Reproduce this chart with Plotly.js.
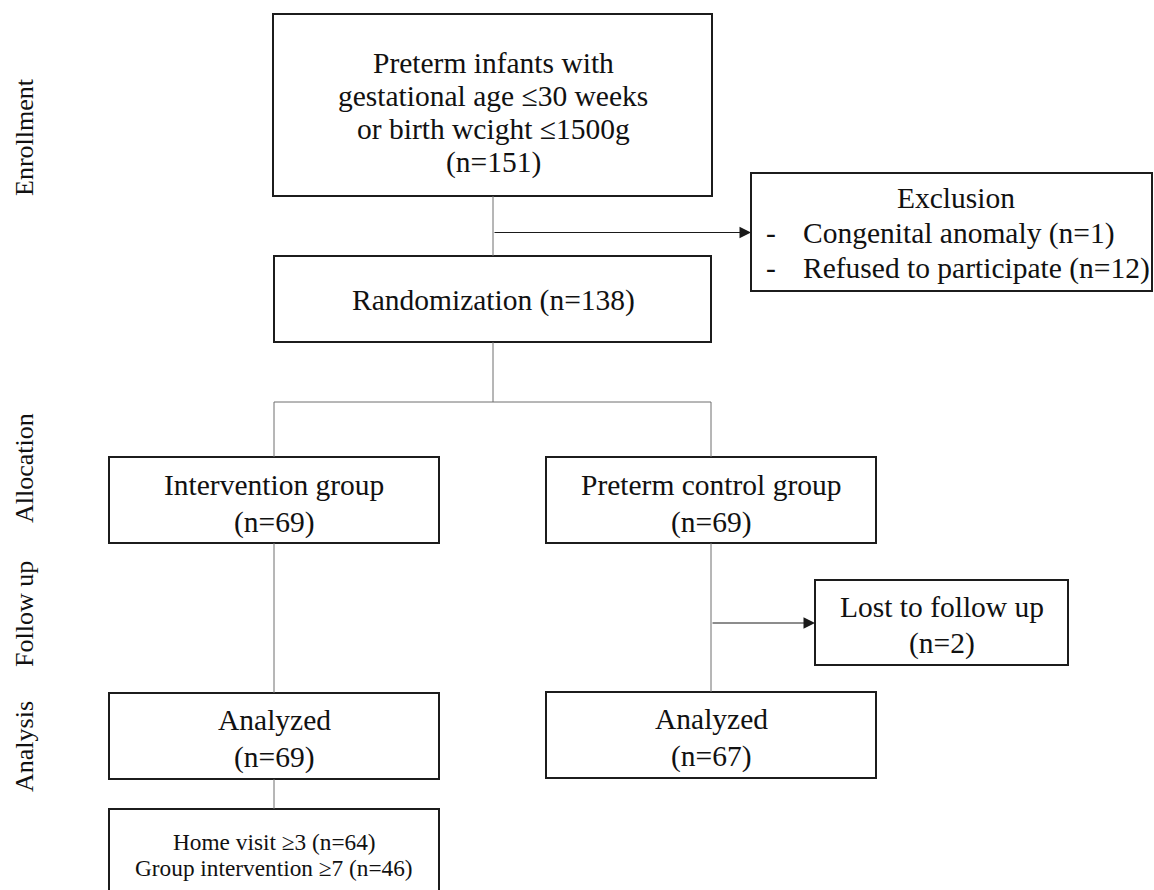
<!DOCTYPE html>
<html><head><meta charset="utf-8">
<script src="https://cdn.plot.ly/plotly-3.0.1.min.js"></script>
<style>html,body{margin:0;padding:0;background:#fff}</style>
</head><body><div id="chart" style="width:1154px;height:890px"></div>
<script>
// ---------- data ----------
const stageLabels = ["Enrollment", "Allocation", "Follow up", "Analysis"];
const eligibilityLines = ["Preterm infants with", "gestational age \u226430 weeks", "or birth wcight \u22641500g"];
const enrolledN = 151;
const randomizedN = 138;
const exclusionTitle = "Exclusion";
const exclusionReasons = ["Congenital anomaly", "Refused to participate"];
const exclusionN = [1, 12];
const groupNames = ["Intervention group", "Preterm control group"];
const allocatedN = [69, 69];
const lostLabel = "Lost to follow up";
const lostN = [null, 2];
const analyzedLabel = "Analyzed";
const analyzedN = [69, 67];
const adherenceLabels = ["Home visit \u22653", "Group intervention \u22657"];
const adherenceN = [64, 46];

// ---------- layout geometry (pixels in a 1154 x 890 frame) ----------
const W = 1154, H = 890;
const colX = [274, 711];          // centre x of the two arms
const mainX = 493;                // centre x of top column
const FONT = "Liberation Serif, Times New Roman, serif";
const FS = 29.5;
const BOX_LINE = {color: "#1c1c1c", width: 2};
const CONN = {color: "#6e6e6e", width: 1};

const boxes = [
  {x0: 273, x1: 712, y0: 14, y1: 196},   // enrollment
  {x0: 751, x1: 1152, y0: 173, y1: 291}, // exclusion
  {x0: 274, x1: 711, y0: 256, y1: 342},  // randomization
  {x0: 109, x1: 439, y0: 457, y1: 543},  // intervention
  {x0: 546, x1: 876, y0: 457, y1: 543},  // control
  {x0: 815, x1: 1068, y0: 580, y1: 665}, // lost
  {x0: 109, x1: 439, y0: 693, y1: 779},  // analyzed L
  {x0: 546, x1: 876, y0: 692, y1: 778},  // analyzed R
  {x0: 109, x1: 439, y0: 809, y1: 905}   // adherence
];

const shapes = [];
boxes.forEach(b => shapes.push({type: "rect", xref: "x", yref: "y", x0: b.x0, x1: b.x1, y0: b.y0, y1: b.y1,
  line: BOX_LINE, fillcolor: "rgba(0,0,0,0)", layer: "above"}));
function seg(x0, y0, x1, y1, line) {
  shapes.push({type: "line", xref: "x", yref: "y", x0: x0, y0: y0, x1: x1, y1: y1, line: line || CONN});
}
seg(mainX, 196, mainX, 256);
seg(mainX, 342, mainX, 402);
seg(colX[0], 402, colX[1], 402);
seg(colX[0], 402, colX[0], 457);
seg(colX[1], 402, colX[1], 457);
seg(colX[0], 543, colX[0], 693);
seg(colX[1], 543, colX[1], 692);
seg(colX[0], 779, colX[0], 809);

const ann = [];
function txt(t, x, y, size, opts) {
  ann.push(Object.assign({text: t, x: x, y: y, xref: "x", yref: "y", showarrow: false,
    xanchor: "center", yanchor: "middle", font: {family: FONT, size: size, color: "#111"}}, opts || {}));
}
function arrow(x0, y, x1) {
  ann.push({x: x1, y: y, ax: x0, ay: y, xref: "x", yref: "y", axref: "x", ayref: "y", text: "",
    showarrow: true, arrowhead: 2, arrowsize: 2.3, arrowwidth: 1, arrowcolor: "#1a1a1a", standoff: 0, startstandoff: 0});
}
const nTxt = n => "(n=" + n + ")";

// enrollment box
const enrolLines = eligibilityLines.concat([nTxt(enrolledN)]);
const enrolY = [63, 96, 129, 162];
enrolLines.forEach((t, i) => txt(t, mainX, enrolY[i], FS));
// exclusion
arrow(mainX, 232.5, 751);
txt(exclusionTitle, 956, 198, FS);
exclusionReasons.forEach((r, i) => {
  txt("-", 771, 233 + i * 35, FS);
  txt(r + " " + nTxt(exclusionN[i]), 801, 233 + i * 35, FS, {xanchor: "left"});
});
// randomization
txt("Randomization " + nTxt(randomizedN), mainX, 300, FS);
// arms
groupNames.forEach((g, i) => {
  txt(g, colX[i], 485, FS);
  txt(nTxt(allocatedN[i]), colX[i], 522, FS);
  const ay = i === 0 ? 720 : 719;
  txt(analyzedLabel, colX[i], ay, FS);
  txt(nTxt(analyzedN[i]), colX[i], ay + 37, FS);
  if (lostN[i]) {
    arrow(colX[i], 623, 815);
    txt(lostLabel, 942, 607, FS);
    txt(nTxt(lostN[i]), 942, 643, FS);
  }
});
// adherence
adherenceLabels.forEach((l, i) => txt(l + " " + nTxt(adherenceN[i]), colX[0], 842 + i * 26, 23.3));
// stage labels
const stageY = [137, 468, 614, 747];
stageLabels.forEach((s, i) => txt(s, 24, stageY[i], 26, {textangle: -90}));

const layout = {
  width: W, height: H, margin: {l: 0, r: 0, t: 0, b: 0},
  paper_bgcolor: "#fff", plot_bgcolor: "#fff", showlegend: false,
  xaxis: {range: [0, W], visible: false, fixedrange: true},
  yaxis: {range: [H, 0], visible: false, fixedrange: true},
  shapes: shapes, annotations: ann
};
Plotly.newPlot("chart", [{x: [], y: [], type: "scatter", mode: "markers", hoverinfo: "skip"}], layout,
  {displayModeBar: false, staticPlot: true});
</script></body></html>
